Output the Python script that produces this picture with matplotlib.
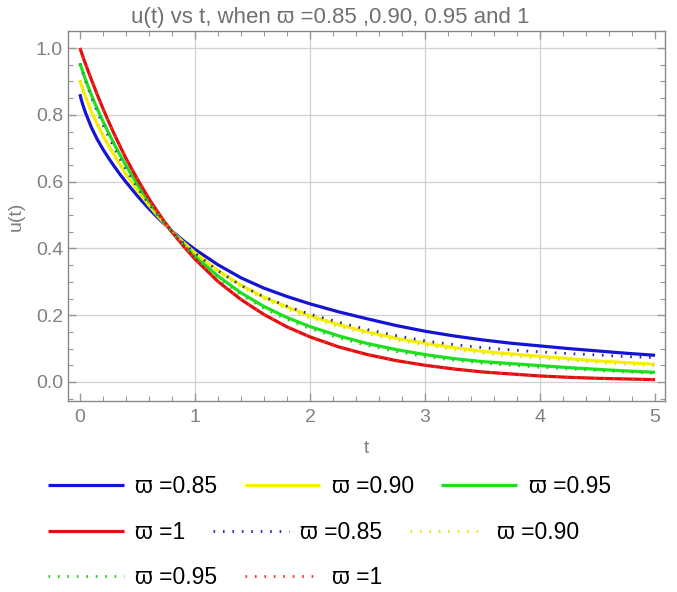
import numpy as np
import matplotlib
matplotlib.use("Agg")
from matplotlib import pyplot as plt
from matplotlib.ticker import MultipleLocator

plt.rcParams['font.family'] = ['Liberation Sans', 'DejaVu Sans']

# values
t = [0, 0.01, 0.02, 0.03, 0.05, 0.1, 0.15, 0.2, 0.25, 0.3, 0.35, 0.4, 0.5, 0.6, 0.7, 0.8, 0.9, 1.0,
     1.2, 1.4, 1.6, 1.8, 2.0, 2.25, 2.5, 2.75, 3.0, 3.25, 3.5, 3.75, 4.0, 4.25, 4.5, 4.75, 5.0]

u_085 = [0.862, 0.848, 0.836, 0.825, 0.805, 0.762, 0.727, 0.697, 0.670, 0.645, 0.621, 0.599,
         0.557, 0.519, 0.484, 0.452, 0.423, 0.397, 0.351, 0.312, 0.281, 0.256, 0.234, 0.210,
         0.189, 0.169, 0.152, 0.138, 0.126, 0.116, 0.108, 0.100, 0.093, 0.086, 0.080]
u_090 = [0.903, 0.892, 0.882, 0.871, 0.853, 0.809, 0.773, 0.738, 0.707, 0.678, 0.650, 0.622,
         0.574, 0.529, 0.488, 0.451, 0.418, 0.387, 0.334, 0.290, 0.254, 0.225, 0.198, 0.172,
         0.150, 0.131, 0.116, 0.103, 0.092, 0.084, 0.077, 0.070, 0.063, 0.058, 0.053]
u_095 = [0.954, 0.944, 0.934, 0.924, 0.904, 0.859, 0.818, 0.781, 0.745, 0.711, 0.679, 0.648,
         0.591, 0.540, 0.493, 0.450, 0.412, 0.377, 0.317, 0.267, 0.226, 0.193, 0.166, 0.138,
         0.115, 0.097, 0.082, 0.070, 0.061, 0.055, 0.049, 0.043, 0.038, 0.033, 0.029]
u_100 = [1.000, 0.990, 0.980, 0.970, 0.951, 0.905, 0.861, 0.819, 0.779, 0.741, 0.705, 0.670,
         0.607, 0.549, 0.497, 0.449, 0.407, 0.368, 0.301, 0.247, 0.202, 0.165, 0.135, 0.105,
         0.082, 0.064, 0.050, 0.039, 0.030, 0.024, 0.018, 0.014, 0.011, 0.009, 0.007]

# dotted curves
d_085 = [0.954, 0.943, 0.931, 0.921, 0.900, 0.852, 0.810, 0.770, 0.734, 0.700, 0.667, 0.637,
         0.582, 0.533, 0.490, 0.451, 0.416, 0.386, 0.333, 0.289, 0.255, 0.227, 0.203, 0.179,
         0.157, 0.139, 0.123, 0.112, 0.103, 0.096, 0.090, 0.085, 0.081, 0.076, 0.073]
d_090 = [0.903, 0.892, 0.882, 0.871, 0.853, 0.809, 0.773, 0.738, 0.707, 0.678, 0.650, 0.622,
         0.574, 0.529, 0.488, 0.451, 0.416, 0.384, 0.330, 0.285, 0.248, 0.219, 0.192, 0.166,
         0.144, 0.125, 0.110, 0.097, 0.086, 0.078, 0.071, 0.065, 0.058, 0.053, 0.048]
d_095 = [0.954, 0.944, 0.934, 0.924, 0.904, 0.859, 0.818, 0.781, 0.745, 0.711, 0.679, 0.648,
         0.591, 0.540, 0.493, 0.450, 0.409, 0.373, 0.312, 0.261, 0.220, 0.187, 0.160, 0.132,
         0.109, 0.091, 0.076, 0.065, 0.056, 0.050, 0.044, 0.039, 0.034, 0.030, 0.026]
d_100 = u_100

labels = ["\u03d6 =0.85", "\u03d6 =0.90", "\u03d6 =0.95", "\u03d6 =1"]
colors = ["#1414d2", "#f5f000", "#1ee01e", "#e01010"]
dot_colors = ["#2a2aa8", "#e6e600", "#22cc22", "#ff3030"]

fig = plt.figure(figsize=(6.77, 5.92), dpi=100)
ax = fig.add_axes([0.1004, 0.3226, 0.882, 0.625])

solid = []
for y, c, lab in zip([u_085, u_090, u_095, u_100], colors, labels):
    l, = ax.plot(t, y, color=c, lw=2.3, label=lab, solid_capstyle='butt')
    solid.append(l)
dotted = []
for y, c, lab in zip([d_085, d_090, d_095, d_100], dot_colors, labels):
    l, = ax.plot(t, y, color=c, lw=2.0, linestyle=(0, (0.6, 2.8)), label=lab)
    dotted.append(l)

ax.set_xlim(-0.104, 5.087)
ax.set_ylim(-0.057, 1.051)
ax.xaxis.set_major_locator(MultipleLocator(1))
ax.xaxis.set_minor_locator(MultipleLocator(0.2))
ax.yaxis.set_major_locator(MultipleLocator(0.2))
ax.yaxis.set_minor_locator(MultipleLocator(0.05))
ax.set_yticks([0, 0.2, 0.4, 0.6, 0.8, 1.0])
ax.set_yticklabels(["0.0", "0.2", "0.4", "0.6", "0.8", "1.0"])
ax.tick_params(which='both', direction='in', top=True, right=True, colors='#999999',
               labelcolor='#808080', labelsize=14)
ax.tick_params(which='major', length=6, width=1)
ax.tick_params(which='minor', length=3.5, width=0.8)
ax.tick_params(axis='x', pad=6)
for s in ax.spines.values():
    s.set_color('#888888')
    s.set_linewidth(1)

ax.grid(True, which='major', color='#d0d0d0', lw=0.9)
ax.set_axisbelow(True)
fig.canvas.draw()
for g, v in zip(ax.get_xgridlines(), ax.get_xticks()):
    if v <= 0 or v >= 5:
        g.set_visible(False)

ax.set_xlabel("t", color='#808080', fontsize=14, labelpad=10)
ax.set_ylabel("u(t)", color='#808080', fontsize=14, labelpad=8)
fig.text(0.488, 0.970, "u(t) vs t, when \u03d6 =0.85 ,0.90, 0.95 and 1",
         ha='center', va='center', color='#707070', fontsize=16)

rows = [
    (solid[:3], 0.178),
    ([solid[3], dotted[0], dotted[1]], 0.101),
    ([dotted[2], dotted[3]], 0.025),
]
for handles, yy in rows:
    leg = fig.legend(handles=handles, labels=[h.get_label() for h in handles],
                     loc='center left', bbox_to_anchor=(0.071, yy), ncol=len(handles),
                     frameon=False, fontsize=16.5, handlelength=3.3, handletextpad=0.5,
                     columnspacing=1.2, borderpad=0, borderaxespad=0)

fig.savefig("out.png", dpi=100)
